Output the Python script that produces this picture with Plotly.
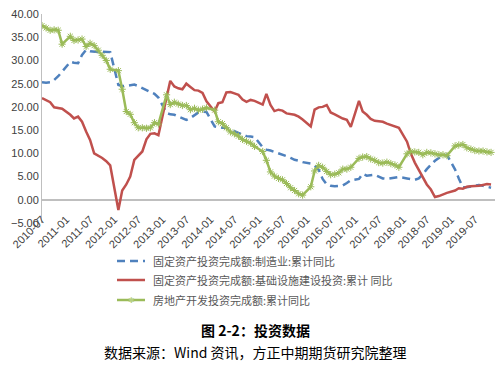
import plotly.graph_objects as go

# Categories: monthly cumulative data (January merged into February), 2010-07 .. 2019-11
months = []
for y in range(2010, 2020):
    for m in range(1, 13):
        if (y == 2010 and m < 7) or (y == 2019 and m > 11) or m == 1:
            continue
        months.append(f"{y}-{m:02d}-01")

# 固定资产投资完成额:制造业:累计同比
manufacturing = [
    25.3, 25.2, 25.3, 25.8, 26.6, 27.6,
    29.7, 29.5, 29.4, 31.2, 32.3, 32.0, 31.9, 31.8, 31.9, 31.9, 31.8,
    24.7, 24.5, 24.5, 24.6, 24.8, 24.5, 24.0, 23.6, 23.2, 22.8, 22.0,
    18.7, 18.4, 18.3, 17.9, 17.6, 17.2, 17.6, 18.3, 18.8, 19.0, 18.9,
    15.8, 15.6, 15.5, 15.5, 15.2, 14.8, 14.4, 14.0, 13.7, 13.6, 13.5,
    11.3, 10.8, 10.6, 10.3, 10.1, 9.8, 9.4, 9.0, 8.6, 8.4, 8.1,
    7.8, 7.4, 6.5, 4.5, 3.3, 3.0, 2.9, 3.0, 3.1, 3.6, 4.2,
    4.5, 5.6, 5.2, 5.3, 5.4, 5.0, 4.6, 4.5, 4.6, 4.7, 4.9,
    4.6, 4.4, 4.3, 4.6, 5.5, 6.6, 7.5, 8.4, 9.0, 9.5, 9.7,
    6.5, 4.6, 2.7, 2.7, 2.9, 3.1, 3.2, 3.0, 2.8, 2.6,
]

# 固定资产投资完成额:基础设施建设投资:累计同比
infrastructure = [
    21.9, 21.5, 21.0, 19.9, 19.7, 19.6,
    18.3, 17.5, 17.9, 16.8, 14.7, 12.9, 10.0, 9.5, 9.0, 8.3, 7.4,
    -2.2, 2.0, 3.3, 5.0, 8.6, 9.6, 10.4, 13.0, 14.2, 14.3, 13.9,
    22.0, 25.6, 24.4, 24.0, 23.8, 25.0, 24.3, 23.6, 23.5, 23.0, 21.2,
    19.0, 20.8, 21.0, 23.1, 23.2, 22.9, 22.6, 21.6, 21.1, 21.5, 21.3,
    20.5, 22.8, 20.4, 19.1, 19.4, 19.2, 18.6, 18.4, 18.3, 17.9, 17.3,
    15.8, 19.4, 19.9, 20.0, 20.4, 18.8, 18.4, 17.9, 17.5, 17.2, 15.7,
    21.3, 19.0, 18.3, 17.4, 17.0, 16.9, 16.8, 16.4, 16.1, 15.9, 15.5,
    12.5, 10.0, 8.0, 6.5, 4.7, 3.3, 2.2, 0.6, 0.8, 1.2, 1.5,
    2.0, 2.5, 2.4, 2.8, 2.9, 2.9, 3.0, 3.2, 3.4, 3.3,
]

# 房地产开发投资完成额:累计同比
real_estate = [
    37.5, 37.0, 36.5, 36.6, 36.5, 33.5,
    35.2, 34.3, 34.4, 34.6, 33.0, 33.7, 33.2, 32.2, 31.1, 30.0, 28.1,
    27.8, 23.8, 19.0, 18.4, 16.6, 15.5, 15.5, 15.4, 15.5, 16.6, 16.3,
    22.6, 20.5, 21.0, 20.6, 20.3, 20.3, 19.4, 19.7, 19.3, 19.5, 19.8,
    19.3, 16.8, 16.4, 15.5, 14.6, 14.2, 13.7, 13.0, 12.6, 12.2, 11.5,
    10.4, 8.5, 6.0, 5.1, 4.6, 4.3, 3.5, 2.6, 2.0, 1.3, 1.0,
    2.8, 6.2, 7.4, 7.0, 6.1, 5.4, 5.5, 5.8, 6.6, 6.6, 7.0,
    8.9, 9.2, 9.3, 8.8, 8.5, 8.0, 7.9, 8.1, 7.8, 7.5, 7.0,
    9.9, 10.4, 10.3, 10.2, 9.7, 10.2, 10.1, 9.9, 9.7, 9.7, 9.5,
    11.6, 11.8, 11.9, 11.2, 10.9, 10.6, 10.5, 10.5, 10.3, 10.2,
]

names = [
    "固定资产投资完成额:制造业:累计同比",
    "固定资产投资完成额:基础设施建设投资:累计 同比",
    "房地产开发投资完成额:累计同比",
]
colors = ["#4F81BD", "#C0504D", "#9BBB59"]
dashes = ["8px,5px", "solid", "solid"]

fig = go.Figure()
fig.add_trace(go.Scatter(x=months, y=manufacturing, name=names[0], mode="lines",
                         line=dict(color=colors[0], width=2.5, dash=dashes[0])))
fig.add_trace(go.Scatter(x=months, y=infrastructure, name=names[1], mode="lines",
                         line=dict(color=colors[1], width=2.5)))
fig.add_trace(go.Scatter(x=months, y=real_estate, name=names[2], mode="lines+markers",
                         line=dict(color=colors[2], width=2.5),
                         marker=dict(symbol="asterisk-open", size=6,
                                     line=dict(color="#B5CF83", width=1))))

cjk = "Noto Sans CJK SC"
W, H = 500, 368
L, R, T, B = 42, 5, 14, 145
PW, PH = W - L - R, H - T - B


def px(xp):
    return (xp - L) / PW


def py(yp):
    return (H - B - yp) / PH


shapes = []
annotations = []
legend_rows = [261, 280, 300]
for i, yy in enumerate(legend_rows):
    shapes.append(dict(type="line", xref="paper", yref="paper",
                       x0=px(117), x1=px(145), y0=py(yy), y1=py(yy),
                       line=dict(color=colors[i], width=2.5, dash=dashes[i])))
    annotations.append(dict(text=names[i], xref="paper", yref="paper",
                            x=px(151), y=py(yy), xanchor="left", yanchor="middle",
                            showarrow=False,
                            font=dict(family=cjk, size=11, color="#595959")))
annotations.append(dict(text="✱", xref="paper", yref="paper",
                        x=px(131), y=py(legend_rows[2]), xanchor="center", yanchor="middle",
                        showarrow=False, font=dict(family="DejaVu Sans", size=8, color="#B5CF83")))

annotations += [
    dict(text="<b>图 2-2：投资数据</b>", xref="paper", yref="paper",
         x=px(255), y=py(330), xanchor="center", yanchor="middle",
         showarrow=False, font=dict(family=cjk, size=14, color="#000000")),
    dict(text="数据来源：Wind 资讯，方正中期期货研究院整理", xref="paper", yref="paper",
         x=px(255), y=py(352), xanchor="center", yanchor="middle",
         showarrow=False, font=dict(family=cjk, size=14, color="#000000")),
]

fig.update_layout(
    width=W, height=H,
    margin=dict(l=L, r=R, t=T, b=B),
    paper_bgcolor="white", plot_bgcolor="white",
    showlegend=False,
    xaxis=dict(type="date", range=["2010-07-01", "2019-12-01"],
               tick0="2010-07-01", dtick="M6", tickformat="%Y-%m",
               tickangle=-45, showgrid=False, showline=False, zeroline=False,
               automargin=False, ticklabelstandoff=-13,
               ticks="", tickfont=dict(family="Liberation Sans", size=11, color="#404040")),
    yaxis=dict(range=[-5, 40], dtick=5, tickformat=".2f", showgrid=False,
               showline=True, linecolor="#BFBFBF", linewidth=1,
               zeroline=True, zerolinecolor="#BFBFBF", zerolinewidth=1.5,
               automargin=False,
               ticks="", tickfont=dict(family="Liberation Sans", size=11, color="#404040")),
    shapes=shapes,
    annotations=annotations,
)

fig.write_html("out.html")
